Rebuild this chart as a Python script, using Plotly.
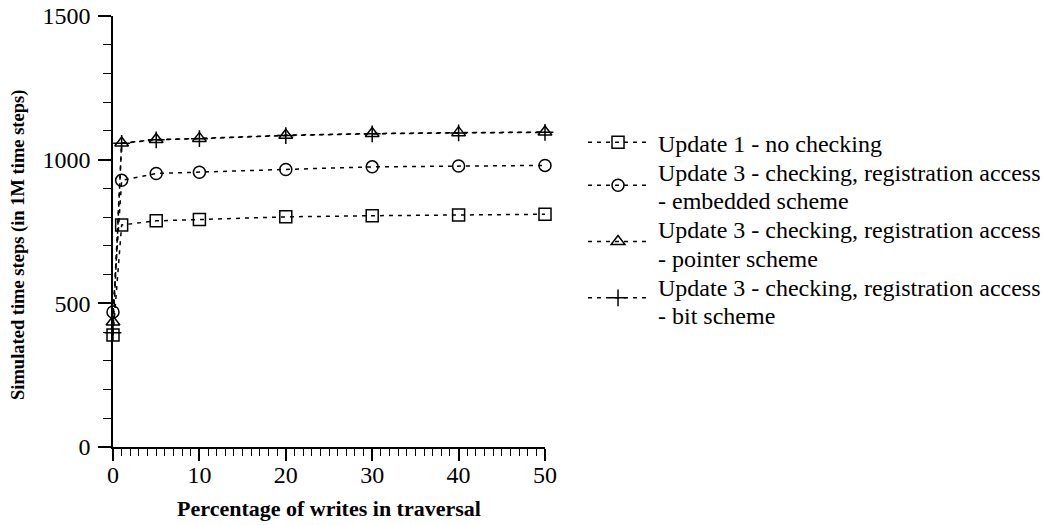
import plotly.graph_objects as go

# Percentage of writes in the traversal
pct_writes = [0, 1, 5, 10, 20, 30, 40, 50]

# Simulated time steps (millions) per configuration
update1_no_check = [390, 773, 787, 792, 801, 805, 807, 810]
update3_embedded = [470, 928, 952, 956, 966, 975, 978, 980]
update3_pointer = [435, 1058, 1070, 1074, 1085, 1091, 1094, 1096]
update3_bit = [398, 1057, 1069, 1073, 1084, 1090, 1093, 1095]

# Legend captions, one list of text lines per series
series_captions = [
    ["Update 1 - no checking"],
    ["Update 3 - checking, registration access", "- embedded scheme"],
    ["Update 3 - checking, registration access", "- pointer scheme"],
    ["Update 3 - checking, registration access", "- bit scheme"],
]
series_values = [update1_no_check, update3_embedded, update3_pointer, update3_bit]
series_symbols = ["square-open", "circle-open", "triangle-up-open", "cross-thin"]

FONT = "Liberation Serif, Times New Roman, serif"
CAPTION_SIZE = 24
KEY_FONT_SIZE = 20.5      # sets the vertical pitch of the legend keys
CAPTION_PITCH_PX = 28.7   # distance between caption lines
PLOT_TOP, PLOT_BOTTOM, PLOT_LEFT, PLOT_RIGHT = 16, 447, 113, 545

fig = go.Figure()
for caption, vals, sym in zip(series_captions, series_values, series_symbols):
    # Legend keys only; the caption text is set as annotations below.
    key_label = "<br>".join(" " for _ in caption)
    fig.add_trace(go.Scatter(
        x=pct_writes, y=vals, name=key_label, mode="lines+markers",
        line=dict(color="black", width=1.5, dash="4px,5px"),
        marker=dict(symbol=sym, size=12, color="black",
                    line=dict(color="black", width=1.5)),
        cliponaxis=False,
    ))

# Caption lines placed beside the legend keys
plot_h = PLOT_BOTTOM - PLOT_TOP
plot_w = PLOT_RIGHT - PLOT_LEFT
caption_lines = [line for cap in series_captions for line in cap]
annotations = []
for i, line in enumerate(caption_lines):
    y_px = 144 + i * CAPTION_PITCH_PX
    annotations.append(dict(
        text=line, xref="paper", yref="paper",
        x=(656 - PLOT_LEFT) / plot_w, y=(PLOT_BOTTOM - y_px) / plot_h,
        xanchor="left", yanchor="middle", showarrow=False,
        font=dict(family=FONT, size=CAPTION_SIZE, color="black"),
    ))

# Y axis title (sits slightly below the plot's vertical centre)
annotations.append(dict(
    text="<b>Simulated time steps (in 1M time steps)</b>", xref="paper", yref="paper",
    x=(18 - PLOT_LEFT) / plot_w, y=(PLOT_BOTTOM - 245) / plot_h,
    xanchor="center", yanchor="middle", textangle=-90, showarrow=False,
    font=dict(family=FONT, size=18.5, color="black"),
))

fig.update_layout(
    width=1044, height=525,
    margin=dict(l=PLOT_LEFT, r=1044 - PLOT_RIGHT, t=PLOT_TOP, b=525 - PLOT_BOTTOM),
    paper_bgcolor="white", plot_bgcolor="white",
    font=dict(family=FONT, color="black", size=24),
    showlegend=True,
    legend=dict(x=1.088, y=0.753, xanchor="left", yanchor="top",
                font=dict(family=FONT, size=KEY_FONT_SIZE, color="black"),
                bgcolor="rgba(0,0,0,0)", tracegroupgap=0, itemwidth=60),
    annotations=annotations,
)

fig.update_xaxes(
    range=[0, 50], tickvals=[0, 10, 20, 30, 40, 50], automargin=False,
    showgrid=False, zeroline=False, showline=True, linecolor="black", linewidth=1.5,
    ticks="outside", ticklen=12, tickwidth=1.5, tickcolor="black",
    minor=dict(dtick=1, ticks="outside", ticklen=7, tickwidth=1, tickcolor="black"),
    tickfont=dict(size=24), ticklabelstandoff=-7,
    title=dict(text="<b>Percentage of writes in traversal</b>", font=dict(size=22), standoff=14),
)
fig.update_yaxes(
    range=[0, 1500], tickvals=[0, 500, 1000, 1500], automargin=False,
    showgrid=False, zeroline=False, showline=True, linecolor="black", linewidth=1.5,
    ticks="outside", ticklen=13, tickwidth=1.5, tickcolor="black",
    minor=dict(dtick=100, ticks="outside", ticklen=8, tickwidth=1, tickcolor="black"),
    tickfont=dict(size=24), ticklabelstandoff=3,
)

fig.write_html("out.html")
